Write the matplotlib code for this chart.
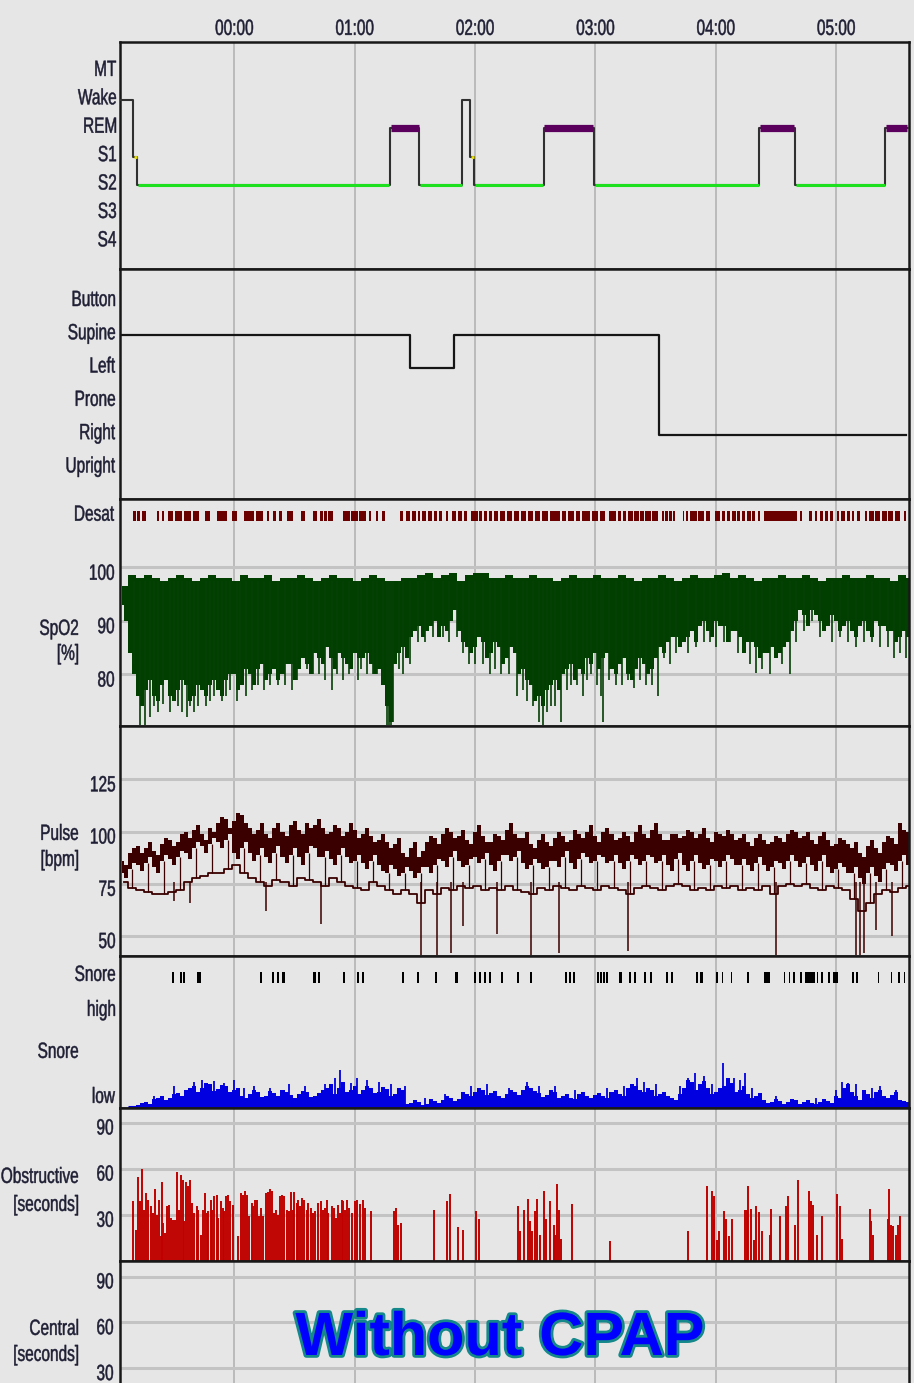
import numpy as np
import matplotlib
matplotlib.use("Agg")
import matplotlib.pyplot as plt
import matplotlib.patheffects as pe
from matplotlib import transforms
from matplotlib.textpath import TextPath
from matplotlib.patches import PathPatch
from matplotlib.font_manager import FontProperties

# ---- time axis (minutes relative to midnight)
hours = [0, 60, 120, 180, 240, 300]
hour_labels = ["00:00", "01:00", "02:00", "03:00", "04:00", "05:00"]
t_start, t_end = -57, 336.3

# ---- hypnogram
stage_names = ["MT", "Wake", "REM", "S1", "S2", "S3", "S4"]
stage_times = [-57, -50.3, -48.3, 77.6, 92.2, 113.7, 117.5, 119.6, 154.2,
               179.3, 261.6, 279.5, 324.4, 335.8]
stage_seq = ["Wake", "S1", "S2", "REM", "S2", "Wake", "S1", "S2", "REM",
             "S2", "REM", "S2", "REM"]

# ---- body position
position_names = ["Button", "Supine", "Left", "Prone", "Right", "Upright"]
position_times = [-57, 87.6, 109.5, 211.7, 334.8]
position_seq = ["Supine", "Left", "Supine", "Right"]

# ---- desaturation events (start, end) in minutes
desat_start = [-50.5, -48.5, -46.0, -38.5, -36.0, -33.0, -29.5, -25.0, -20.5, -14.5,
               -8.5, -1.0, 5.0, 11.0, 16.5, 19.5, 22.5, 26.0, 33.0, 39.0,
               42.5, 44.5, 46.5, 54.0, 58.0, 62.0, 67.0, 70.5, 73.5, 82.5,
               85.5, 88.5, 91.5, 93.5, 96.5, 99.5, 102.0, 105.5, 108.5, 111.5,
               114.5, 118.0, 122.0, 124.5, 127.0, 129.5, 132.5, 136.0, 139.5, 143.0,
               146.5, 150.0, 153.5, 157.5, 163.5, 166.5, 170.5, 173.5, 178.5, 182.5,
               187.0, 191.0, 193.5, 196.0, 199.0, 202.0, 204.5, 208.0, 213.0, 214.5,
               216.5, 218.5, 223.5, 225.0, 227.0, 231.0, 235.0, 239.5, 243.0, 245.5,
               248.0, 250.5, 253.0, 255.5, 258.0, 261.0, 264.0, 282.0, 286.5, 289.5,
               292.0, 294.5, 297.0, 300.5, 302.5, 305.5, 308.0, 310.5, 314.5, 316.5,
               319.5, 323.0, 326.0, 329.5, 334.0]
desat_end = [-49.0, -47.0, -44.0, -37.5, -35.0, -30.5, -26.0, -21.5, -17.5, -12.0,
             -3.5, 1.5, 10.0, 14.5, 17.5, 21.0, 24.0, 29.0, 35.0, 41.0,
             44.0, 46.0, 49.0, 57.5, 61.5, 65.5, 68.0, 71.5, 75.0, 84.0,
             87.5, 90.5, 92.5, 95.5, 98.5, 101.0, 103.5, 106.5, 110.5, 113.5,
             116.0, 121.5, 123.5, 126.0, 128.5, 131.5, 135.0, 138.5, 142.0, 145.5,
             149.0, 152.5, 156.5, 162.5, 165.5, 169.5, 172.5, 177.5, 181.5, 185.0,
             190.0, 192.5, 195.0, 198.5, 201.5, 204.0, 207.5, 211.0, 214.0, 216.0,
             218.0, 219.5, 224.0, 226.0, 230.5, 234.0, 237.0, 242.0, 244.5, 247.0,
             250.0, 252.0, 254.5, 257.5, 259.5, 262.0, 280.5, 283.0, 288.0, 290.5,
             293.5, 296.0, 298.5, 301.5, 304.5, 307.0, 309.0, 312.0, 315.5, 319.0,
             322.0, 325.5, 328.5, 332.0, 335.0]

# ---- trend samples every 4 min from -56 to 336, plus the in-between samples (+2 min)
t4 = np.arange(-56, 340, 4)

spo2_top = [96.5, 98.5, 98, 98.5, 98, 97.5, 98, 98.5, 98, 97.5,
            98, 98.5, 98, 98, 97.5, 98.5, 98, 98, 98.5, 97.5,
            98, 98, 98.5, 98, 97.5, 98, 98.5, 98, 98, 97.5,
            98, 98.5, 98, 97.5, 97.5, 98, 98, 98.5, 99, 98,
            98.5, 99, 97.5, 98.5, 99, 99, 98, 98, 98.5, 98,
            98, 98.5, 98, 98, 97.5, 98, 98.5, 98, 98, 98.5,
            98, 98, 98.5, 98, 97.5, 98, 98, 98.5, 98, 97.5,
            98, 98.5, 98, 98, 98.5, 99, 98, 98.5, 98, 97.5,
            98, 98, 98.5, 98, 98, 98.5, 98, 97.5, 98, 98,
            98.5, 98, 98, 98.5, 98, 98, 97.5, 98.5, 98]
spo2_floor = [93, 84, 76, 77, 76, 78, 76, 77, 78, 76,
              77, 78, 77, 79, 80, 78, 80, 81, 79, 81,
              80, 82, 81, 82, 84, 82, 83, 84, 82, 84,
              83, 82, 81, 74, 82, 85, 87, 89, 88, 90,
              89, 90, 88, 85, 85, 86, 84, 85, 83, 84,
              81, 78, 76, 77, 79, 80, 82, 81, 83, 84,
              83, 81, 82, 80, 81, 82, 81, 85, 86, 87,
              86, 88, 89, 88, 90, 89, 88, 87, 86, 85,
              84, 85, 84, 86, 90, 91, 92, 90, 89, 90,
              89, 88, 89, 88, 90, 89, 88, 87, 87]
spo2_floor_b = [90, 80, 74, 79, 75, 79, 75, 79, 75, 78,
                76, 79, 76, 80, 77, 81, 78, 82, 80, 79,
                82, 79, 83, 80, 83, 85, 81, 83, 81, 83,
                84, 80, 78, 71, 84, 83, 88, 87, 89, 87,
                88, 92, 86, 84, 87, 83, 86, 82, 85, 80,
                79, 75, 74, 78, 77, 81, 79, 80, 82, 81,
                84, 80, 83, 79, 83, 80, 83, 84, 87, 85,
                87, 86, 90, 87, 89, 86, 88, 84, 86, 83,
                84, 83, 85, 88, 92, 89, 91, 88, 91, 88,
                90, 87, 90, 87, 89, 88, 86, 88, 87]
# short drops below the trend (time, SpO2)
spo2_dip_t = [-50, -47, -44.5, -42, -40, -38, -35.5, -32, -30, -28, -26, -23.6,
              -22, -20, -18, -14, -12, -10, -8, -6, -4, -2, 1.3, 3,
              6, 9, 12, 15, 18, 22, 25, 28.8, 31, 36, 39, 42,
              45, 48.7, 51, 54, 57, 61.7, 63, 66, 69, 71, 74, 76,
              77, 78, 79, 82, 84, 87.5, 91.5, 95, 99, 104, 107, 111,
              114, 117, 120, 124, 127.5, 130, 133, 137, 141, 144, 146, 149,
              152, 154, 156, 158, 160, 163, 166, 168, 171, 174, 176, 178,
              181, 183, 184, 187, 190, 193, 196, 199, 202, 205, 208, 211,
              214, 217, 220, 226, 230, 234, 237, 240, 244, 247, 251, 254,
              257, 260, 263, 267, 270, 273, 277, 280, 284, 288, 292, 298,
              302, 306, 310, 314, 318, 322, 326, 329, 332, 335]
spo2_dip_v = [82, 70.5, 70.5, 72, 74, 73, 74.5, 73, 75, 74, 73, 72,
              74, 73, 74, 74, 75, 76, 77, 75, 76, 77, 75, 78,
              76, 77, 78, 77, 78, 78, 78, 77, 79, 81, 80, 80,
              79, 77, 80, 79, 80, 79, 81, 80, 80, 80, 78, 70.5,
              70.5, 70.5, 71, 81, 80, 82, 86, 86, 87, 87, 86, 87,
              84, 82, 82, 82, 80, 81, 80, 80, 76, 77, 75, 74,
              71, 70.5, 73, 74, 74, 71, 77, 78, 78, 76, 79, 80,
              78, 76, 71, 79, 78, 78, 79, 77.5, 79, 78, 78, 76,
              83, 82, 84, 84, 85, 86, 86, 85, 86, 86, 84, 84.5,
              82, 80.2, 81, 80, 83, 82, 80, 86, 88, 90, 87, 86,
              87, 86, 85, 86, 86, 85, 85, 83, 84, 83]

# pulse: upper band (top / bottom edge) and lower trace
pulse_hi = [86, 90, 93, 92, 91, 94, 96, 95, 100, 101,
            99, 102, 104, 106, 105, 108, 102, 101, 99, 102,
            100, 103, 101, 104, 103, 102, 100, 102, 100, 101,
            99, 98, 96, 95, 94, 90, 92, 88, 95, 97,
            99, 100, 98, 96, 100, 98, 95, 98, 101, 99,
            97, 94, 96, 95, 97, 98, 96, 99, 100, 98,
            100, 99, 97, 98, 100, 99, 101, 99, 96, 99,
            98, 100, 99, 97, 100, 98, 99, 97, 95, 97,
            96, 95, 97, 99, 100, 98, 96, 98, 96, 94,
            96, 92, 90, 93, 92, 95, 97, 104, 100]
pulse_hi_b = [84, 92, 90, 95, 89, 97, 93, 99, 97, 103,
              96, 100, 107, 102, 109, 104, 99, 104, 97, 104,
              98, 105, 99, 102, 106, 99, 103, 98, 104, 97,
              102, 95, 99, 92, 97, 88, 95, 91, 98, 94,
              102, 97, 101, 94, 103, 95, 99, 96, 104, 97,
              100, 92, 99, 93, 100, 95, 101, 97, 103, 95,
              102, 96, 100, 95, 103, 97, 104, 96, 99, 97,
              101, 97, 102, 95, 99, 101, 96, 99, 93, 99,
              94, 98, 95, 101, 97, 100, 94, 100, 93, 97,
              94, 95, 88, 96, 90, 98, 94, 101, 102]
pulse_mid = [80, 82, 84, 85, 83, 86, 87, 88, 90, 92,
             93, 94, 95, 96, 90, 92, 90, 89, 88, 90,
             88, 89, 88, 90, 92, 88, 87, 89, 88, 86,
             85, 86, 84, 80, 82, 80, 81, 80, 83, 84,
             86, 88, 86, 84, 88, 87, 84, 86, 89, 88,
             85, 84, 85, 83, 86, 88, 85, 87, 88, 86,
             88, 86, 85, 86, 87, 86, 88, 86, 84, 87,
             84, 86, 85, 84, 86, 86, 87, 84, 84, 85,
             84, 83, 85, 86, 86, 85, 84, 86, 83, 82,
             83, 80, 78, 80, 79, 82, 84, 86, 84]
pulse_mid_b = [78, 85, 81, 88, 80, 89, 84, 91, 87, 95,
               90, 97, 92, 99, 87, 95, 86, 92, 85, 93,
               85, 92, 84, 93, 88, 91, 84, 92, 85, 89,
               82, 89, 81, 84, 79, 83, 78, 83, 80, 87,
               83, 91, 83, 87, 85, 90, 81, 89, 86, 91,
               82, 87, 82, 86, 83, 91, 82, 90, 85, 89,
               85, 89, 82, 89, 84, 89, 85, 89, 81, 90,
               81, 89, 82, 87, 83, 89, 84, 87, 81, 88,
               81, 86, 82, 89, 83, 88, 81, 89, 80, 85,
               80, 83, 75, 83, 76, 85, 81, 89, 82]
pulse_lo = [76, 73, 72, 71, 70, 70, 71, 72, 76, 78,
            79, 80, 80, 82, 84, 80, 78, 76, 74, 77,
            76, 74, 78, 77, 76, 74, 78, 76, 74, 73,
            72, 76, 74, 72, 70, 72, 70, 66, 72, 70,
            73, 72, 74, 73, 74, 72, 73, 72, 74, 72,
            71, 70, 73, 72, 74, 73, 72, 74, 73, 72,
            74, 73, 72, 70, 73, 74, 73, 72, 74, 75,
            74, 72, 73, 72, 74, 73, 74, 72, 73, 72,
            74, 70, 74, 75, 74, 75, 73, 72, 74, 73,
            72, 68, 62, 66, 70, 72, 71, 73, 74]
pulse_dip_t = [-30, -22, 16, 43, 93, 101, 108, 114, 131, 148, 162, 196,
               270, 310, 312, 314, 320, 328]
pulse_dip_v = [67, 66, 62, 56, 41, 41, 42, 55, 51, 41, 42, 43,
               41, 41, 41, 42, 53, 50]

# ---- snore events (start, end) and snore loudness trend
snore_start = [-31.0, -27.0, -25.5, -18.5, 13.0, 19.0, 21.5, 24.0, 39.0, 41.5,
               54.0, 61.0, 63.5, 83.5, 91.0, 100.0, 110.0, 119.5, 122.0, 124.5,
               127.0, 133.0, 141.0, 147.5, 165.0, 167.0, 169.0, 181.0, 182.5, 184.0,
               185.5, 191.5, 196.5, 199.0, 204.0, 207.0, 215.0, 217.5, 230.0, 232.0,
               240.0, 243.0, 247.5, 255.5, 264.0, 274.0, 276.5, 278.5, 282.0, 284.5,
               290.5, 292.5, 296.0, 298.5, 308.0, 310.0, 321.0, 327.5, 331.0, 334.0]
snore_end = [-30.0, -26.0, -24.5, -16.5, 14.0, 20.0, 22.5, 25.0, 40.5, 42.5,
             55.0, 62.0, 64.5, 84.5, 92.0, 101.0, 111.5, 120.5, 123.0, 125.5,
             128.0, 134.0, 142.0, 148.5, 166.0, 168.0, 170.0, 182.0, 183.5, 185.0,
             186.5, 193.0, 197.5, 200.0, 205.0, 208.0, 216.0, 218.5, 231.0, 233.5,
             241.0, 243.5, 248.0, 256.5, 267.0, 274.5, 277.0, 279.5, 283.0, 289.5,
             291.0, 293.5, 297.0, 301.0, 309.0, 311.0, 321.5, 328.0, 332.0, 334.5]
snore_level = [0, 1, 3, 6, 9, 12, 10, 15, 18, 22,
               20, 24, 19, 22, 18, 12, 14, 16, 12, 15,
               18, 13, 14, 16, 12, 18, 24, 20, 16, 22,
               18, 20, 16, 19, 14, 18, 5, 6, 4, 7,
               8, 10, 9, 14, 16, 18, 15, 12, 14, 16,
               18, 20, 15, 13, 16, 12, 10, 14, 12, 13,
               12, 16, 14, 20, 22, 16, 18, 14, 12, 8,
               20, 26, 24, 20, 16, 22, 25, 18, 14, 12,
               8, 6, 7, 6, 8, 6, 5, 6, 7, 12,
               20, 16, 8, 14, 16, 12, 13, 8, 6]
snore_level_b = [0, 2, 5, 4, 10, 8, 14, 12, 20, 16,
                 25, 17, 23, 16, 20, 10, 18, 11, 17, 12,
                 16, 10, 17, 11, 15, 20, 14, 26, 18, 14,
                 22, 15, 21, 12, 20, 4, 8, 3, 9, 5,
                 12, 7, 16, 12, 20, 13, 17, 10, 18, 13,
                 22, 17, 11, 18, 10, 14, 9, 16, 10, 15,
                 10, 18, 12, 24, 18, 20, 12, 16, 10, 14,
                 28, 18, 27, 14, 20, 30, 16, 22, 10, 15,
                 5, 9, 4, 9, 4, 8, 4, 9, 5, 10,
                 24, 12, 18, 10, 18, 10, 16, 7, 4]
snore_peak_t = [-40, -30, -20, -16, -10, -5, 0, 5, 10, 18, 27, 35,
                45, 50, 52.7, 58, 61, 66, 72, 78, 85, 95, 105, 118,
                126, 137, 146, 152, 160, 170, 186, 194, 200.5, 204, 210, 222,
                226, 229.7, 234, 238, 243.8, 249, 252, 254.6, 258, 270, 290, 300,
                303, 306, 310, 318, 322, 330]
snore_peak_v = [12, 22, 26, 28, 27, 25, 28, 20, 22, 20, 24, 22,
                24, 30, 38, 25, 30, 28, 26, 24, 22, 10, 14, 22,
                24, 20, 26, 22, 22, 18, 20, 22, 30, 26, 24, 22,
                30, 35, 32, 24, 45, 30, 28, 35, 20, 12, 10, 18,
                26, 25, 24, 20, 22, 18]

# ---- obstructive apnea events: time (min) and duration (s)
obs_t = [-50.3, -49.0, -48.2, -47.0, -45.9, -45.0, -44.0, -42.9, -41.7, -40.7,
         -39.5, -38.7, -37.4, -36.7, -36.0, -35.4, -34.5, -33.7, -32.6, -31.6,
         -30.4, -29.6, -28.7, -27.6, -26.6, -25.7, -24.9, -24.1, -23.2, -22.1,
         -20.9, -19.9, -18.7, -17.9, -16.6, -15.8, -14.6, -13.8, -13.0, -11.8,
         -11.0, -10.0, -8.8, -8.0, -6.8, -5.8, -5.0, -4.0, -3.0, -2.1,
         -0.8, 2.0, 3.2, 4.2, 5.3, 6.5, 7.5, 8.7, 9.5, 10.5,
         11.5, 12.5, 13.3, 14.5, 15.6, 16.6, 17.8, 18.6, 19.8, 20.8,
         21.9, 22.8, 23.9, 24.9, 26.1, 27.1, 28.1, 29.1, 29.9, 31.1,
         31.9, 32.8, 33.9, 34.9, 36.1, 36.9, 38.1, 39.4, 40.2, 41.9,
         43.2, 44.2, 45.2, 46.2, 46.8, 48.8, 49.8, 50.8, 51.8, 52.7,
         53.5, 54.3, 55.3, 56.2, 57.0, 58.6, 60.0, 61.0, 62.5, 63.9,
         65.0, 68.0, 79.5, 80.5, 81.5, 83.0, 99.6, 106.0, 107.6, 111.5,
         113.9, 120.5, 122.0, 141.6, 142.2, 144.4, 146.6, 147.4, 148.4, 149.7,
         151.1, 152.5, 154.2, 155.6, 157.2, 159.1, 159.7, 160.9, 161.7, 163.0,
         168.5, 187.2, 226.0, 235.8, 238.1, 238.9, 239.3, 240.5, 241.8, 244.2,
         245.3, 246.5, 247.9, 254.7, 255.4, 256.1, 257.6, 259.0, 260.0, 261.4,
         263.0, 266.9, 267.2, 267.7, 272.2, 275.2, 276.0, 279.7, 281.0, 286.3,
         287.6, 288.6, 290.2, 293.1, 300.3, 301.9, 302.7, 316.7, 317.5, 318.3,
         325.7, 326.3, 327.3, 328.3, 329.7, 330.7, 331.8]
obs_s = [38.7, 20.4, 54.6, 38.8, 59.7, 33.4, 44.3, 39.9, 35.6, 31.2,
         46.8, 30.2, 39.9, 16.1, 51.1, 24.8, 18.3, 35.6, 36.6, 28.0,
         26.9, 26.9, 57.6, 33.4, 56.1, 52.9, 25.8, 51.1, 48.5, 52.9,
         37.7, 31.2, 35.6, 33.4, 17.2, 33.4, 44.3, 31.2, 32.3, 39.9,
         33.4, 42.0, 43.1, 28.0, 38.8, 34.5, 32.3, 42.0, 43.1, 38.8,
         36.6, 16.1, 44.3, 43.1, 45.3, 43.1, 29.1, 37.7, 35.6, 39.9,
         39.9, 29.1, 34.5, 29.1, 44.3, 44.8, 46.8, 45.3, 31.2, 33.4,
         30.2, 42.0, 43.1, 42.0, 33.4, 32.3, 44.8, 33.4, 44.8, 37.7,
         39.9, 35.6, 40.9, 39.9, 33.4, 37.7, 34.5, 31.2, 32.3, 37.7,
         38.8, 33.4, 34.4, 39.9, 31.2, 35.5, 34.4, 28.0, 36.6, 31.2,
         39.9, 38.8, 33.4, 39.9, 34.4, 31.2, 38.8, 39.9, 37.1, 39.9,
         34.4, 32.3, 32.3, 34.4, 23.7, 24.8, 33.4, 38.8, 43.5, 22.2,
         20.4, 32.3, 27.3, 35.5, 19.3, 33.4, 40.3, 25.8, 19.3, 32.3,
         40.3, 17.2, 45.2, 27.3, 38.8, 23.7, 17.2, 50.0, 33.4, 14.4,
         37.1, 12.9, 19.3, 48.5, 45.2, 27.3, 42.0, 13.9, 19.3, 32.3,
         27.3, 16.1, 27.3, 33.4, 33.4, 48.5, 33.8, 13.9, 35.5, 32.1,
         19.3, 16.1, 17.2, 33.8, 29.1, 35.5, 42.0, 23.7, 52.8, 45.2,
         38.8, 36.6, 17.2, 29.1, 43.5, 35.5, 14.4, 33.8, 25.8, 17.2,
         27.3, 46.8, 23.7, 22.6, 17.2, 23.7, 29.1]

# ---- styling
W, H = 914, 1383
BG = "#e6e6e6"
TXT = "#1e1e34"
GRID = "#c3c3c3"
PULSE = "#3a0000"
PROP = FontProperties(family="Liberation Sans")
EM = 22.0     # glyph size in pixels
SX = 0.70     # horizontal squeeze of the narrow label font

fig = plt.figure(figsize=(W / 100, H / 100), dpi=100, facecolor=BG)
PIX = transforms.Affine2D().scale(1 / W, 1 / H) + fig.transFigure


def label(x, y, s, ha="right", em=EM, sx=SX, color=TXT):
    """Narrow text; x, y in pixels from the top-left, y at the middle of the caps."""
    tp = TextPath((0, 0), s, size=em, prop=PROP)
    ext = tp.get_extents()
    if ha == "right":
        dx = x - ext.x1 * sx
    elif ha == "center":
        dx = x - (ext.x0 + ext.x1) / 2 * sx
    else:
        dx = x - ext.x0 * sx
    dy = (H - y) - 0.716 * em / 2
    path = transforms.Affine2D().scale(sx, 1).translate(dx, dy).transform_path(tp)
    fig.add_artist(PathPatch(path, facecolor=color, edgecolor=color, lw=0.35,
                             transform=PIX))


def panel(top, bottom, ylim, ygrid=()):
    ax = fig.add_axes([120 / W, 1 - bottom / H, (909 - 120) / W, (bottom - top) / H])
    ax.set_facecolor(BG)
    ax.set_xlim(t_start, t_end)
    ax.set_ylim(*ylim)
    ax.set_xticks(hours)
    ax.set_yticks(list(ygrid))
    ax.tick_params(length=0, labelbottom=False, labelleft=False)
    ax.grid(axis="x", color="#bababa", lw=1.4)
    if ygrid:
        ax.grid(axis="y", color=GRID, lw=2.2)
    ax.set_axisbelow(True)
    for s in ax.spines.values():
        s.set_linewidth(1.8)
        s.set_color("#181818")
    return ax


def side_labels(ax, ys, texts, dy=0.0, x=115):
    # labels left of the panel, placed at data values, dy in pixels (down positive)
    for yv, s in zip(ys, texts):
        yp = H - ax.transData.transform((0, yv))[1] + dy
        label(x, yp, s)


def pairs(a, b):
    return np.ravel(np.column_stack([a, b]))


t2 = pairs(t4, t4 + 2)

# ---- hypnogram
ax = panel(42, 269, (0.05, 8.04))
lvl = {n: 7 - i for i, n in enumerate(stage_names)}
xs, ys = [], []
for i, st in enumerate(stage_seq):
    xs += [stage_times[i], stage_times[i + 1]]
    ys += [lvl[st], lvl[st]]
ax.plot(xs, ys, color="#303030", lw=1.5, zorder=3)
colors = {"S2": ("#1fe01f", 2.2), "REM": ("#5c005e", 5.2), "S1": ("#e8e000", 2.0)}
for i, st in enumerate(stage_seq):
    if st in colors:
        c, w = colors[st]
        ax.hlines(lvl[st], stage_times[i] + 0.3, stage_times[i + 1] - 0.3,
                  color=c, lw=w, zorder=4)
side_labels(ax, [lvl[n] for n in stage_names], stage_names, dy=-3.5, x=116)
for h, s in zip(hours, hour_labels):
    xp = ax.transData.transform((h, 0))[0]
    label(xp, 27, s, ha="center")

# ---- body position
ax = panel(269, 499, (0.07, 6.98))
plv = {n: 6 - i for i, n in enumerate(position_names)}
xs, ys = [], []
for i, p in enumerate(position_seq):
    xs += [position_times[i], position_times[i + 1]]
    ys += [plv[p], plv[p]]
ax.plot(xs, ys, color="#151515", lw=1.6)
side_labels(ax, [plv[n] for n in position_names], position_names, dy=-3.5)

# ---- desaturation + SpO2
ax = panel(499, 726, (70.3, 112.8), ygrid=(80, 90, 100))
ax.broken_barh([(s, e - s) for s, e in zip(desat_start, desat_end)], (108.7, 1.9),
               color="#6a0000", lw=0)
ax.fill_between(t2, pairs(spo2_floor, spo2_floor_b), pairs(spo2_top, spo2_top),
                step="mid", color="#003f00", lw=0)
ax.vlines(spo2_dip_t, spo2_dip_v, 97.5, color="#053f05", lw=1.2)
side_labels(ax, [100, 90, 80], ["100", "90", "80"], dy=4.5, x=114)
side_labels(ax, [109.65], ["Desat"], dy=-3, x=114)

# ---- pulse
ax = panel(726, 956, (40.5, 150.6), ygrid=(50, 75, 100, 125))
ax.fill_between(t2, pairs(pulse_mid, pulse_mid_b), pairs(pulse_hi, pulse_hi_b),
                step="mid", color=PULSE, lw=0)
ax.plot(t4 + 1, pulse_lo, color=PULSE, lw=1.3, drawstyle="steps-mid")
ax.vlines(t4[1::2] + 1, np.array(pulse_lo)[1::2], np.array(pulse_mid)[1::2],
          color=PULSE, lw=0.9)
ax.vlines(pulse_dip_t, pulse_dip_v, 76, color=PULSE, lw=1.1)
side_labels(ax, [125, 100, 75, 50], ["125", "100", "75", "50"], dy=4)

# ---- snore
ax = panel(956, 1108, (0, 152))
ax.broken_barh([(s, e - s) for s, e in zip(snore_start, snore_end)], (125, 11),
               color="black", lw=0)
ax.fill_between(t2, 0, pairs(snore_level, snore_level_b), step="mid",
                color="#0000e0", lw=0)
ax.vlines(snore_peak_t, 0, snore_peak_v, color="#0000e0", lw=1.3)
ax.hlines(1.5, -53, t_end, color="#0000e0", lw=2.2)
side_labels(ax, [135, 100, 13], ["Snore", "high", "low"], dy=0)

# ---- obstructive apneas
ax = panel(1108, 1261, (0, 99.5), ygrid=(30, 60, 90))
ax.vlines(obs_t, 0, obs_s, color="#c00000", lw=1.4)
side_labels(ax, [90, 60, 30], ["90", "60", "30"], dy=4, x=113)

# ---- central apneas (panel continues below)
ax = panel(1261, 1414, (0, 100.2), ygrid=(30, 60, 90))
side_labels(ax, [90, 60, 30], ["90", "60", "30"], dy=4, x=113)

# ---- channel titles
for y, s in [(627, "SpO2"), (652, "[%]"), (832, "Pulse"), (858, "[bpm]"),
             (1050, "Snore"), (1175, "Obstructive"), (1203, "[seconds]"),
             (1327, "Central"), (1353, "[seconds]")]:
    label(78, y, s)

fig.text(500 / W, 1 - 1355 / H, "Without CPAP", ha="center", va="baseline",
         fontsize=44, fontweight="bold", color="#0000ff", family="Liberation Sans",
         path_effects=[pe.Stroke(linewidth=4, foreground="#14888a"), pe.Normal()])

fig.savefig("out.png", dpi=100, facecolor=BG)
